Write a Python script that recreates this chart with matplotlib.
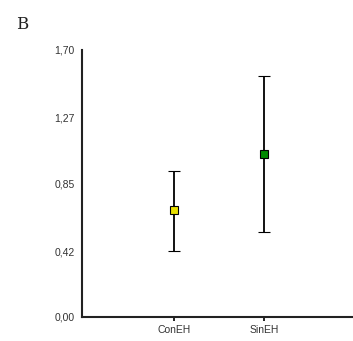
import numpy as np
import matplotlib.pyplot as plt

grupos = ['ConEH', 'SinEH']
medias = np.array([0.68, 1.04])
inferior = np.array([0.42, 0.54])
superior = np.array([0.93, 1.535])
colores = ['#e8e000', '#008a00']
yticks = [0.00, 0.42, 0.85, 1.27, 1.70]

plt.rcParams['font.family'] = ['Liberation Sans', 'DejaVu Sans']

fig = plt.figure(figsize=(3.53, 3.41), dpi=100)
ax = fig.add_axes([0.232, 0.0704, 0.768, 0.783])

x = np.arange(len(grupos))
for i in range(len(grupos)):
    ax.errorbar(
        x[i], medias[i],
        yerr=[[medias[i] - inferior[i]], [superior[i] - medias[i]]],
        fmt='s', color='black', ecolor='black', elinewidth=1.3,
        capsize=4.5, capthick=1.3,
        markerfacecolor=colores[i], markeredgecolor='black',
        markersize=5.5, markeredgewidth=0.8
    )

ax.set_xlim(-1.02, 1.99)
ax.set_ylim(0, 1.70)
ax.set_xticks(x)
ax.set_xticklabels(grupos, fontsize=7.5, color='#333333')
ax.set_yticks(yticks)
ax.set_yticklabels([f'{v:.2f}'.replace('.', ',') for v in yticks],
                   fontsize=7.5, color='#333333')
ax.tick_params(axis='y', length=0, pad=5)
ax.tick_params(axis='x', length=3, width=1.2, pad=3)

for lado in ['top', 'right']:
    ax.spines[lado].set_visible(False)
for lado in ['left', 'bottom']:
    ax.spines[lado].set_linewidth(1.5)
    ax.spines[lado].set_color('#222222')

fig.text(0.045, 0.915, 'B', fontsize=12, family='DejaVu Serif', color='#222222')

fig.savefig('out.png', dpi=100)
